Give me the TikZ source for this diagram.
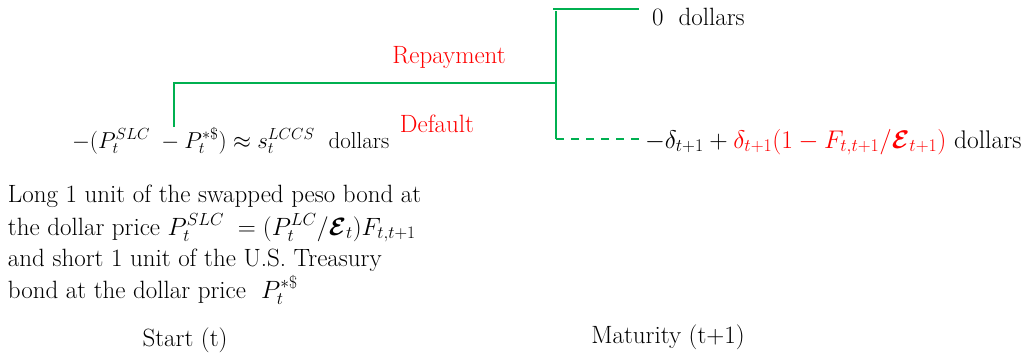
\RequirePackage{fix-cm}
\documentclass[tikz,border=0pt]{standalone}
\usepackage{amsmath}
\usepackage{bm}
\definecolor{brgreen}{RGB}{0,176,80}
\definecolor{brred}{RGB}{255,0,0}
\tikzset{
  branch/.style={draw=brgreen, line width=2.6pt},
  txt/.style={inner sep=0pt, outer sep=0pt, font=\fontsize{25}{32}\selectfont},
  redtxt/.style={txt, text=brred},
}
\begin{document}
\begin{tikzpicture}[x=1pt,y=-1pt]
\useasboundingbox (0,0) rectangle (1034,354);
% tree points
\coordinate (root) at (174,127);
\coordinate (junc) at (556,83);
\coordinate (vtop) at (556,11);
\coordinate (vbot) at (556,139);
\coordinate (upL) at (553,9);
\coordinate (upR) at (639,9);
\coordinate (dnR) at (642,139);
\draw[branch] (root) |- (junc);
\draw[branch] (vtop) -- (vbot);
\draw[branch] (upL) -- (upR);
\draw[branch, dash pattern=on 8pt off 7pt] (vbot) -- (dnR);
% labels
\node[redtxt, anchor=base] (rep) at (449,63) {Repayment};
\node[redtxt, anchor=base] (def) at (437,132) {Default};
\node[txt, anchor=base west, font=\fontsize{23}{30}\selectfont] (start) at (72,148) {$-(P_t^{SLC}\;-P_t^{*\$})\approx s_t^{LCCS}$\ \ dollars};
\node[txt, anchor=base west] (zero) at (652,25) {0\ \ dollars};
\node[txt, anchor=base west, font=\fontsize{25.5}{32}\selectfont] (dflt) at (645,148) {$-\delta_{t+1}+{\color{brred}\delta_{t+1}(1-F_{t,t+1}/\bm{\mathcal{E}}_{t+1})}$ dollars};
\node[txt, anchor=base west] (l1) at (8,202) {Long 1 unit of the swapped peso bond at};
\node[txt, anchor=base west] (l2) at (8,235) {the dollar price $P_t^{SLC}\;=(P_t^{LC}/\bm{\mathcal{E}}_t)F_{t,t+1}$};
\node[txt, anchor=base west] (l3) at (8,266) {and short 1 unit of the U.S. Treasury};
\node[txt, anchor=base west] (l4) at (8,298) {bond at the dollar price\ \ $P_t^{*\$}$};
\node[txt, anchor=base] (st) at (185,346) {Start (t)};
\node[txt, anchor=base] (mat) at (668,343) {Maturity (t+1)};
\end{tikzpicture}
\end{document}
